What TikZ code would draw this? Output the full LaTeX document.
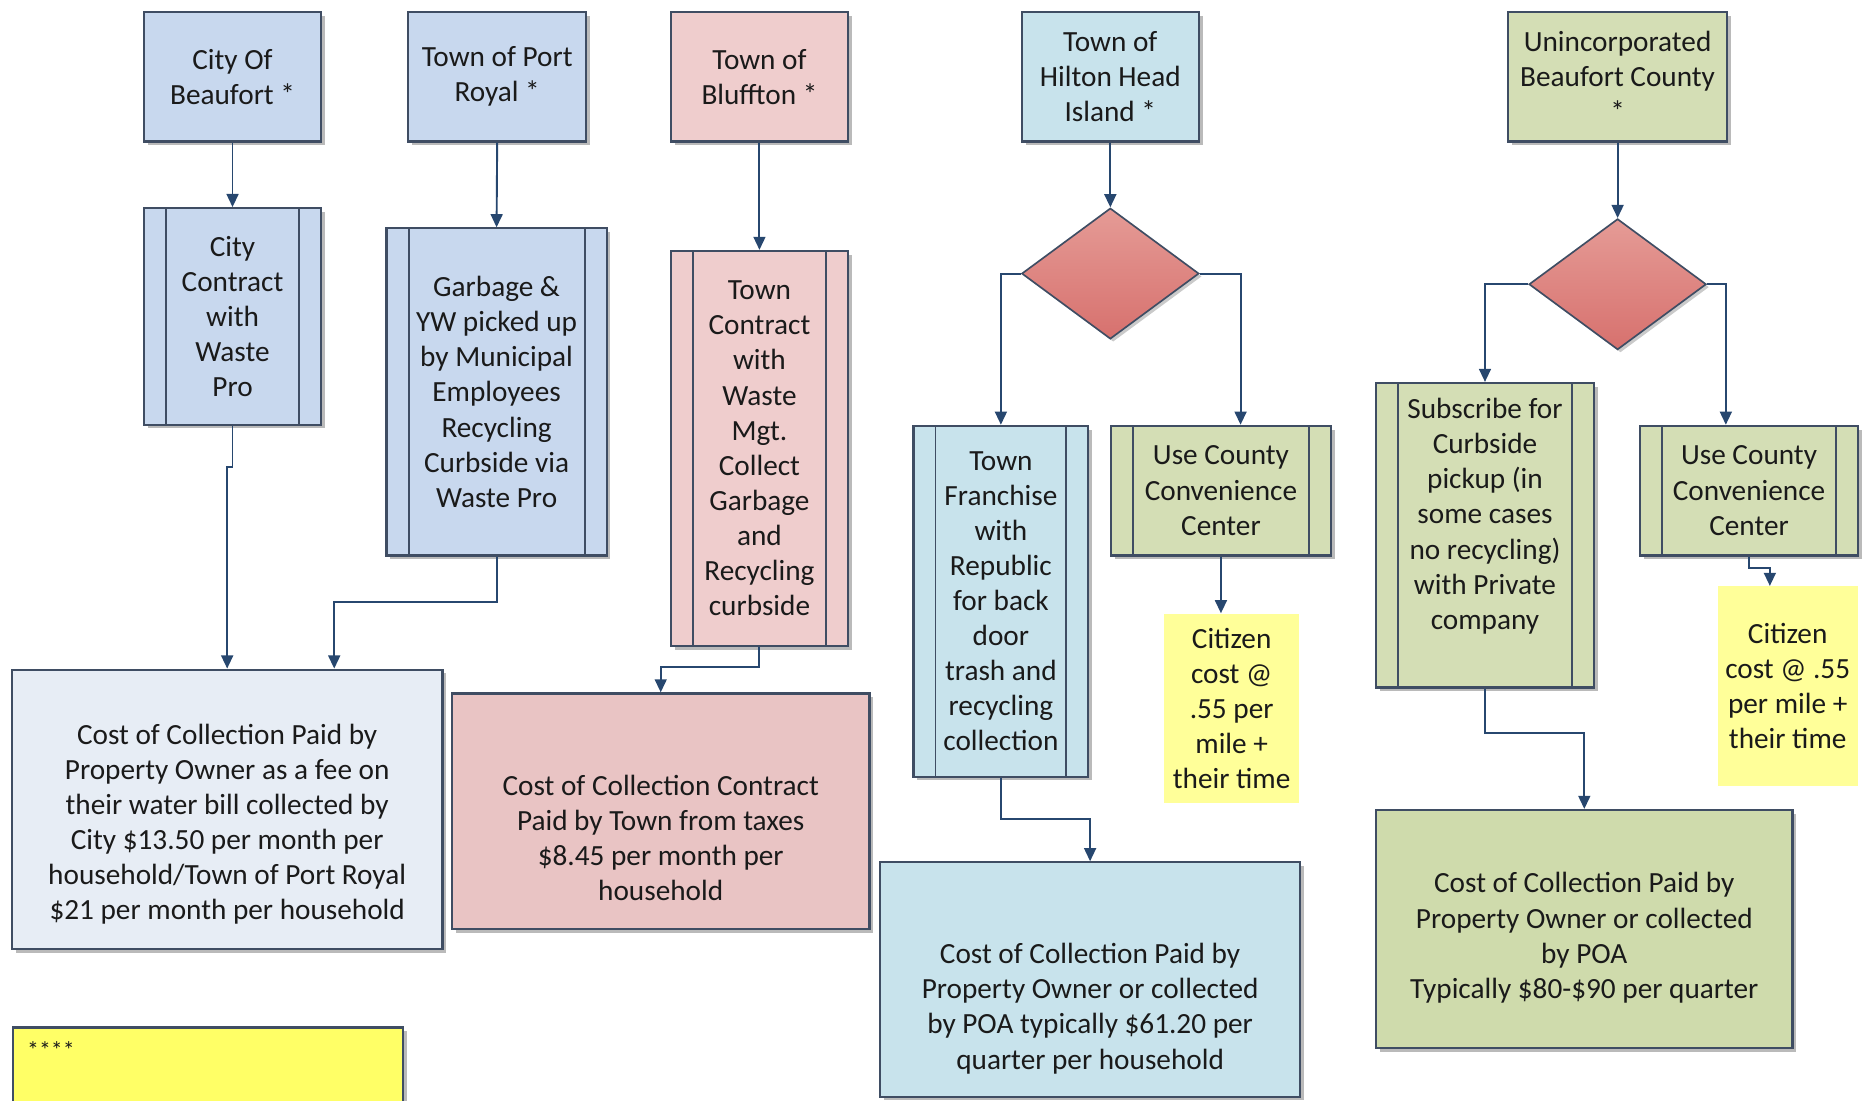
\documentclass[tikz,border=0pt]{standalone}
\usepackage{fontspec}
\setmainfont{Carlito}
\usetikzlibrary{shapes.geometric,arrows.meta,shadows}

\definecolor{edge}{HTML}{3F4D63}
\definecolor{ink}{HTML}{1A1A1A}
\definecolor{arrowblue}{HTML}{27476F}
\definecolor{bluef}{HTML}{C8D8EE}
\definecolor{pinkf}{HTML}{EFCDCD}
\definecolor{cyanf}{HTML}{C8E3EC}
\definecolor{greenf}{HTML}{D4DEB5}
\definecolor{costblue}{HTML}{E7EDF5}
\definecolor{costpink}{HTML}{E9C4C4}
\definecolor{greenk}{HTML}{CFDBAC}
\definecolor{cityel}{HTML}{FFFF99}
\definecolor{notey}{HTML}{FFFF66}
\definecolor{diatop}{HTML}{E59B96}
\definecolor{diabot}{HTML}{D7716E}

\begin{document}
\begin{tikzpicture}[x=.5pt,y=-.5pt,font=\fontsize{12.3}{14.75}\selectfont,
    box/.style={draw=edge, line width=.9pt, align=center, inner sep=2pt, text=ink,
      drop shadow={shadow xshift=1.6pt, shadow yshift=-1.6pt, opacity=.45, fill=black!60}},
    bar/.style={box, path picture={
      \draw[edge, line width=.8pt]
        ([xshift=9.25pt]path picture bounding box.north west) -- ([xshift=9.25pt]path picture bounding box.south west)
        ([xshift=-9.25pt]path picture bounding box.north east) -- ([xshift=-9.25pt]path picture bounding box.south east);}},
    dec/.style={shape=diamond, draw=edge, line width=.7pt, top color=diatop, bottom color=diabot,
      minimum width=74.5pt, minimum height=55pt, inner sep=0pt,
      drop shadow={shadow xshift=1.2pt, shadow yshift=-1.2pt, opacity=.35, fill=black!60}},
    cit/.style={fill=cityel, align=center, text=ink, inner sep=0pt},
    arr/.style={draw=arrowblue, line width=.8pt, -{Triangle[width=5pt,length=5.5pt]}}]
    \useasboundingbox (0,0) rectangle (1568,925);

    % top row
    \node[box, fill=bluef, minimum width=74.5pt, minimum height=54.5pt] (CB) at (195.5,64.5) {City Of\\Beaufort *};
    \node[box, fill=bluef, minimum width=75pt, minimum height=54.5pt] (PR) at (418,64.5) {Town of Port\\Royal *};
    \node[box, fill=pinkf, minimum width=74.5pt, minimum height=54.5pt] (BL) at (638.5,64.5) {Town of\\Bluffton *};
    \node[box, fill=cyanf, minimum width=74.5pt, minimum height=54.5pt] (HH) at (933.5,64.5) {Town of\\Hilton Head\\Island *};
    \node[box, fill=greenf, minimum width=92pt, minimum height=54.5pt] (UB) at (1360,64.5) {Unincorporated\\Beaufort County\\*};

    % who collects
    \node[bar, fill=bluef, minimum width=74.5pt, minimum height=91pt] (CBp) at (195.5,266) {City\\Contract\\with\\Waste\\Pro};
    \node[bar, fill=bluef, minimum width=92.5pt, minimum height=137.5pt] (PRp) at (417.5,329.5) {Garbage \&\\YW picked up\\by Municipal\\Employees\\Recycling\\Curbside via\\Waste Pro};
    \node[bar, fill=pinkf, minimum width=74.5pt, minimum height=166pt] (BLp) at (638.5,377) {Town\\Contract\\with\\Waste\\Mgt.\\Collect\\Garbage\\and\\Recycling\\curbside};
    \node[dec] (HHd) at (933.5,230) {};
    \node[bar, fill=cyanf, minimum width=73.5pt, minimum height=147.5pt] (HHp) at (841.5,505.5) {Town\\Franchise\\with\\Republic\\for back\\door\\trash and\\recycling\\collection};
    \node[bar, fill=greenf, minimum width=92.5pt, minimum height=54.5pt] (HHu) at (1026.5,412.5) {Use County\\Convenience\\Center};
    \node[cit, minimum width=56.5pt, minimum height=79.5pt] (HHc) at (1035.5,595.5) {Citizen\\cost @\\.55 per\\mile +\\their time};
    \node[dec] (UBd) at (1360,239) {};
    \node[bar, fill=greenf, minimum width=91.5pt, minimum height=128pt] (UBp) at (1248.5,450) {Subscribe for\\Curbside\\pickup (in\\some cases\\no recycling)\\with Private\\company\rule[-18pt]{0pt}{0pt}};
    \node[bar, fill=greenf, minimum width=91.5pt, minimum height=54.5pt] (UBu) at (1470.5,412.5) {Use County\\Convenience\\Center};
    \node[cit, minimum width=59pt, minimum height=84pt] (UBc) at (1503,577) {Citizen\\cost @ .55\\per mile +\\their time};

    % who pays
    \node[box, fill=costblue, minimum width=181pt, minimum height=117.5pt] (CBk) at (191,680.5) {\rule{0pt}{21pt}Cost of Collection Paid by\\Property Owner as a fee on\\their water bill collected by\\City \$13.50 per month per\\household/Town of Port Royal\\\$21 per month per household};
    \node[box, fill=costpink, minimum width=175.5pt, minimum height=99pt] (BLk) at (555.5,682) {\rule{0pt}{31pt}Cost of Collection Contract\\Paid by Town from taxes\\\$8.45 per month per\\household};
    \node[box, fill=cyanf, minimum width=176.5pt, minimum height=98.5pt] (HHk) at (916.5,823.5) {\rule{0pt}{33pt}Cost of Collection Paid by\\Property Owner or collected\\by POA typically \$61.20 per\\quarter per household};
    \node[box, fill=greenk, minimum width=175pt, minimum height=100pt] (UBk) at (1332,781) {\rule{0pt}{16pt}Cost of Collection Paid by\\Property Owner or collected\\by POA\\Typically \$80-\$90 per quarter};
    \node[box, fill=notey, anchor=north west, text width=152pt, align=left, inner xsep=6pt, inner ysep=6pt] (NT) at (10,863) {{\fontsize{10}{12}\selectfont****}\rule[-30pt]{0pt}{0pt}};

    \draw[arr] (CB.south) -- (CBp.north);
    \draw[arr] (PR.south) -- (PRp.north);
    \draw[arr] (BL.south) -- (BLp.north);
    \draw[arr] (HH.south) -- (HHd.north);
    \draw[arr] (UB.south) -- (UBd.north);
    \draw[arr] (HHd.west) -| (HHp.north);
    \draw[arr] (HHd.east) -| ([xshift=8.25pt]HHu.north);
    \draw[arr] (HHu.south) -- (HHu.south |- HHc.north);
    \draw[arr] (UBd.west) -| (UBp.north);
    \draw[arr] (UBd.east) -| ([xshift=-9.75pt]UBu.north);
    \draw[arr] (UBu.south) -- ++(0,10) -| ([xshift=-7.5pt]UBc.north);
    \draw[arr] (CBp.south) -- ++(0,35) -| (CBk.north);
    \draw[arr] (PRp.south) -- ++(0,38) -| ([xshift=45pt]CBk.north);
    \draw[arr] (BLp.south) -- ++(0,17) -| (BLk.north);
    \draw[arr] (HHp.south) -- ++(0,35) -| (HHk.north);
    \draw[arr] (UBp.south) -- ++(0,37) -| (UBk.north);
\end{tikzpicture}
\end{document}
